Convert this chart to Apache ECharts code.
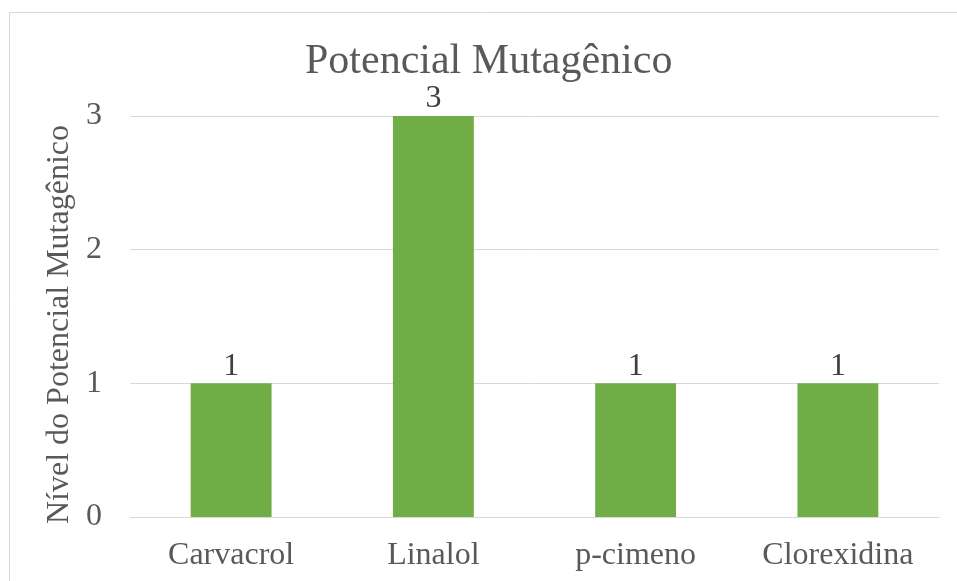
<!DOCTYPE html>
<html>
<head>
<meta charset="utf-8">
<script src="https://cdn.jsdelivr.net/npm/echarts@6/dist/echarts.min.js"></script>
<style>
html,body{margin:0;padding:0;background:#fff;}
#chart{width:957px;height:581px;}
</style>
</head>
<body>
<div id="chart"></div>
<script>
var categories = ['Carvacrol', 'Linalol', 'p-cimeno', 'Clorexidina'];
var values = [1, 3, 1, 1];
var yTicks = [0, 1, 2, 3];

var FONT = '"Liberation Serif", "Times New Roman", serif';
var chart = echarts.init(document.getElementById('chart'), null, {renderer: 'canvas'});
chart.setOption({
  backgroundColor: '#ffffff',
  animation: false,
  title: {
    text: 'Potencial Mutagênico',
    left: 300,
    top: 36,
    textStyle: {fontFamily: FONT, fontSize: 42, fontWeight: 'normal', color: '#595959'}
  },
  graphic: [{
    type: 'rect',
    shape: {x: 9.5, y: 12.5, width: 1000, height: 700},
    style: {fill: 'none', stroke: '#d9d9d9', lineWidth: 1},
    silent: true
  }],
  grid: {left: 130, right: 18, top: 116, bottom: 64},
  xAxis: {
    type: 'category',
    data: categories,
    axisLine: {lineStyle: {color: '#d9d9d9', width: 1}},
    axisTick: {show: false},
    axisLabel: {fontFamily: FONT, fontSize: 32, color: '#595959', margin: 23}
  },
  yAxis: {
    type: 'value',
    min: yTicks[0],
    max: yTicks[yTicks.length - 1],
    interval: 1,
    name: 'Nível do Potencial Mutagênico',
    nameLocation: 'middle',
    nameGap: 48,
    nameTextStyle: {fontFamily: FONT, fontSize: 32, color: '#595959', padding: [0, 16, 0, 0]},
    axisLine: {show: false},
    axisTick: {show: false},
    splitLine: {lineStyle: {color: '#d9d9d9', width: 1}},
    axisLabel: {fontFamily: FONT, fontSize: 32, color: '#595959', margin: 28}
  },
  series: [{
    type: 'bar',
    data: values,
    barWidth: '40%',
    itemStyle: {color: '#70ad47'},
    label: {show: true, position: 'top', distance: 1, fontFamily: FONT, fontSize: 32, color: '#404040'}
  }]
});
</script>
</body>
</html>
